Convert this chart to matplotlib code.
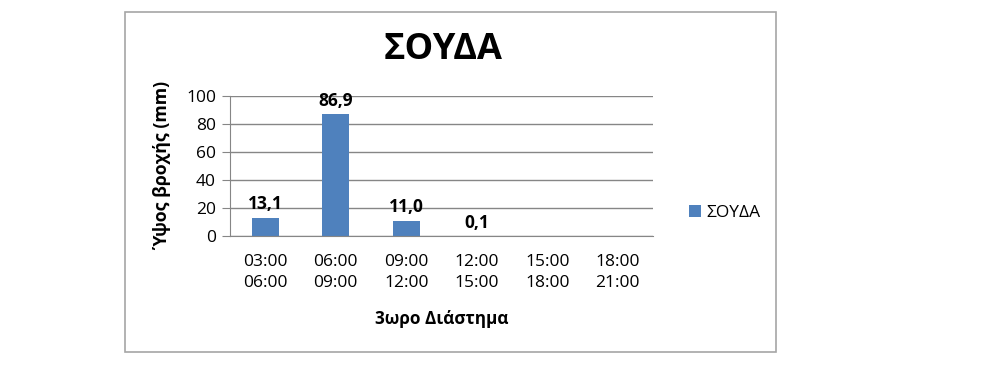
import numpy as np
import matplotlib.pyplot as plt
from matplotlib.patches import Rectangle

# Δεδομένα
kategories = ['03:00\n06:00', '06:00\n09:00', '09:00\n12:00',
              '12:00\n15:00', '15:00\n18:00', '18:00\n21:00']
vroxi = [13.1, 86.9, 11.0, 0.1, np.nan, np.nan]
etiketes = ['13,1', '86,9', '11,0', '0,1', '', '']
seira = 'ΣΟΥΔΑ'

plt.rcParams['font.family'] = ['Open Sans', 'DejaVu Sans']

fig = plt.figure(figsize=(9.89, 3.75), dpi=100)
ax = fig.add_axes([230/989, 1-236/375, (653-230)/989, (236-96)/375])

# Πλαίσιο γύρω από το γράφημα
fig.patches.append(Rectangle((125/989, 1-352/375), (776-125)/989, (352-12)/375,
                             transform=fig.transFigure, fill=False,
                             edgecolor='#a6a6a6', lw=1.2))

x = np.arange(len(kategories))
bars = ax.bar(x, vroxi, width=0.38, color='#4F81BD', label=seira)

for xi, v, t in zip(x, vroxi, etiketes):
    if t:
        ax.text(xi, v + 3, t, ha='center', va='bottom', fontsize=12.5,
                fontweight='bold')

ax.set_xlim(-0.5, len(kategories) - 0.5)
ax.set_ylim(0, 100)
ax.set_yticks(range(0, 101, 20))
ax.set_xticks(x)
ax.set_xticklabels(kategories, fontsize=12.5, linespacing=1.45)
ax.tick_params(axis='x', length=0, pad=13)
ax.tick_params(axis='y', length=6, color='#868686', labelsize=12.5, pad=4)

ax.grid(axis='y', color='#868686', lw=1)
ax.set_axisbelow(True)
for s in ['top', 'right']:
    ax.spines[s].set_visible(False)
ax.spines['left'].set_color('#868686')
ax.spines['bottom'].set_color('#868686')

ax.set_xlabel('3ωρο Διάστημα', fontsize=12.3, fontweight='bold', labelpad=13)
ax.set_ylabel('Ύψος βροχής (mm)', fontsize=12.8, fontweight='bold', labelpad=10)

fig.text(443/989, 1-50/375, 'ΣΟΥΔΑ', ha='center', va='center', fontsize=26,
         fontweight='bold')

fig.legend(loc='center left', bbox_to_anchor=(680/989, 1-213/375),
           frameon=False, fontsize=12.5, handlelength=0.7, handleheight=0.7,
           handletextpad=0.3, borderpad=0)

fig.savefig('out.png', dpi=100)
